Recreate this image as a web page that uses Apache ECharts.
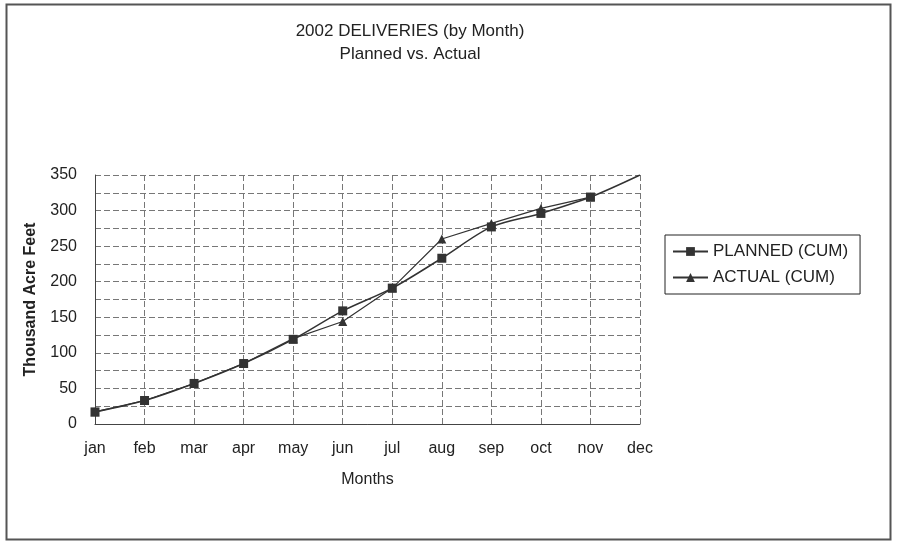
<!DOCTYPE html>
<html><head><meta charset="utf-8">
<script src="https://cdn.jsdelivr.net/npm/echarts@6/dist/echarts.min.js"></script>
<style>html,body{margin:0;padding:0;background:#fff}#c{width:899px;height:543px}</style>
</head><body><div id="c"></div>
<script>
const months = ['jan','feb','mar','apr','may','jun','jul','aug','sep','oct','nov','dec'];
const planned = [17, 33, 57, 85, 119, 159, 191, 233, 277, 296, 319, 350];
const actual = [17, 33, 57, 85, 120, 144, 191, 260, 282, 303, 319];
const yTicks = [0, 50, 100, 150, 200, 250, 300, 350];

const font = 'Liberation Sans, Arial, sans-serif';
const chart = echarts.init(document.getElementById('c'));
chart.setOption({
  backgroundColor: '#fff',
  animation: false,
  title: {
    text: '2002 DELIVERIES (by Month)\nPlanned vs. Actual',
    left: 405, top: 15, textAlign: 'center',
    textStyle: {fontFamily: font, fontSize: 17, fontWeight: 'normal', color: '#222', lineHeight: 23}
  },
  graphic: [{
    type: 'rect', shape: {x: 6.5, y: 4.5, width: 884, height: 535},
    style: {fill: 'none', stroke: '#555', lineWidth: 2}, silent: true, z: -1
  }],
  legend: {
    orient: 'vertical', left: 665, top: 235,
    borderColor: '#222', borderWidth: 1, padding: [8, 12, 8, 7],
    itemGap: 9, itemWidth: 35, itemHeight: 11,
    textStyle: {fontFamily: font, fontSize: 17, color: '#222'},
    data: ['PLANNED (CUM)', 'ACTUAL (CUM)']
  },
  grid: {left: 95, right: 259, top: 175, bottom: 119, containLabel: false},
  xAxis: {
    type: 'category', data: months, boundaryGap: false,
    name: 'Months', nameLocation: 'middle', nameGap: 48,
    nameTextStyle: {fontFamily: font, fontSize: 16, color: '#222'},
    axisLine: {lineStyle: {color: '#444', width: 1}},
    axisTick: {show: false},
    axisLabel: {fontFamily: font, fontSize: 16, color: '#222', margin: 17},
    splitLine: {show: true, lineStyle: {color: '#777', type: [6, 3], width: 1}}
  },
  yAxis: {
    type: 'value', min: 0, max: 350, interval: 25,
    name: 'Thousand Acre Feet', nameLocation: 'middle', nameGap: 56,
    nameTextStyle: {fontFamily: font, fontSize: 16, fontWeight: 'bold', color: '#222'},
    axisLine: {show: true, lineStyle: {color: '#444'}},
    axisTick: {show: false},
    axisLabel: {fontFamily: font, fontSize: 16, color: '#222', margin: 18,
      formatter: v => yTicks.includes(v) ? String(v) : ''},
    splitLine: {show: true, lineStyle: {color: '#777', type: [6, 3], width: 1}}
  },
  series: [{
    name: 'PLANNED (CUM)', type: 'line', data: planned, smooth: 0.3,
    symbol: 'rect',
    symbolSize: (v, p) => p.dataIndex === planned.length - 1 ? 0 : 9,
    lineStyle: {color: '#333', width: 1.5},
    itemStyle: {color: '#333'}
  }, {
    name: 'ACTUAL (CUM)', type: 'line', data: actual,
    symbol: 'triangle', symbolSize: 9,
    lineStyle: {color: '#333', width: 1.2},
    itemStyle: {color: '#333'}
  }]
});
</script></body></html>
